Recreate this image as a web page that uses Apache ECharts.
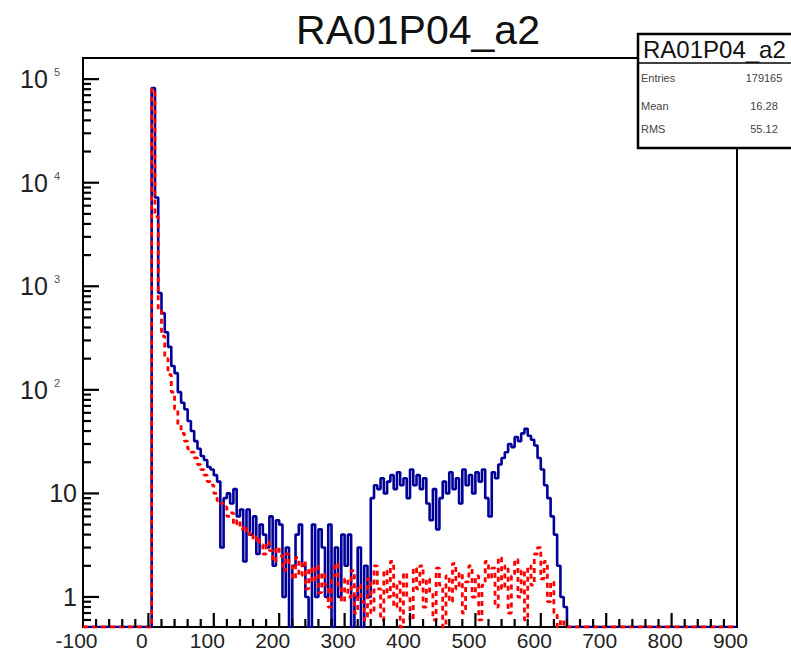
<!DOCTYPE html>
<html><head><meta charset="utf-8">
<script src="https://cdn.jsdelivr.net/npm/echarts@6/dist/echarts.min.js"></script>
<style>html,body{margin:0;padding:0;background:#fff}#c{width:791px;height:657px}</style>
</head><body><div id="c"></div>
<script>
// ---- axis ranges ----
const X_MIN = -100, X_MAX = 900;
const Y_MIN = 0.513, Y_MAX = 160000;
// histogram binning of the arrays below (bins start at 0, width 5)
const BIN_START = 0, BIN_WIDTH = 5;

// ---- series values (one entry per 5-unit bin, 0 .. 650) ----
const blueCounts = [
  0, 82000, 7200, 860, 550, 360, 260, 170, 145, 95,
  75, 65, 50, 40, 32, 27, 23, 21, 18, 17,
  15, 13, 3, 9, 10, 8, 11, 6, 7, 2.2,
  7, 4, 6, 2.6, 5, 4, 3, 6, 2, 5.5,
  5, 1, 3, 0, 2, 4, 5, 2, 1, 0,
  5, 1, 4.5, 3, 1, 5, 0, 3, 1, 4,
  2, 4, 0, 1, 3, 0, 2, 1,
  9, 12, 11, 14, 10, 13, 15, 11, 16, 12,
  14, 9, 17, 12, 15, 11, 14, 8, 5.5, 11,
  4.5, 9, 13, 10, 16, 11, 14, 8, 17, 12,
  15, 10, 16, 13, 17, 9, 6, 16, 14, 19,
  22, 25, 30, 28, 35, 32, 38, 42, 36, 33,
  29, 22, 17, 12, 9, 6, 4, 2, 1, 0.8,
  0, 0
];
const redCounts = [
  0, 80000, 4700, 600, 330, 200, 140, 95, 65, 46,
  38, 32, 27, 25, 22, 19, 17, 15, 13, 12,
  10, 8.5, 8, 7.4, 6, 6.5, 5, 5.5, 4.5, 4.8,
  4, 4.2, 3.5, 3.8, 3.2, 2.6, 3.4, 2.8, 2.2, 3,
  2.5, 1.8, 2.6, 2, 1.5, 2.4, 1.6, 2.2, 1.2, 1.9,
  1.4, 2, 1.1, 1.7, 1.3, 0.8, 1.6, 2.1, 1.2, 0.9,
  1.5, 1, 1.8, 0.7, 1.3, 0.9, 0.6, 1.5,
  0.7, 2, 1.2, 0.6, 1.8, 1, 2.2, 0.8, 1.4, 0,
  1.7, 1, 0.6, 1.9, 1.2, 2, 0.8, 1.5, 1.1, 0.6,
  1.9, 1.3, 0, 1.6, 0.9, 2.1, 1.2, 1.7, 0.7, 1.4,
  2, 1, 1.6, 0.6, 1.3, 2.2, 1.5, 1.9, 0.8, 2.4,
  1.2, 2, 0.7, 1.6, 2.3, 1, 1.8, 0.6, 2, 1.3,
  2.6, 3, 1.5, 2.2, 0.9, 1.4, 0.7, 0, 0.6, 0,
  0, 0
];

// ---- texts ----
const histTitle = 'RA01P04_a2';
const statsLabels = ['Entries', 'Mean', 'RMS'];
const statsValues = ['179165', '16.28', '55.12'];

// ---- build histogram step points (left bin edges, step at end) ----
function histPoints(counts) {
  const pts = [[X_MIN, Y_MIN]];
  counts.forEach((c, i) => pts.push([BIN_START + i * BIN_WIDTH, c > 0 ? c : Y_MIN]));
  pts.push([BIN_START + counts.length * BIN_WIDTH, Y_MIN]);
  pts.push([X_MAX, Y_MIN]);
  return pts;
}
// axis tick positions (ROOT style: inside ticks; log minor ticks at 2..9)
const yMajor = [], yMinor = [];
for (let e = -1; e <= 5; e++) for (let m = 1; m <= 9; m++) {
  const v = m * Math.pow(10, e);
  if (v > Y_MIN && v < Y_MAX) (m === 1 ? yMajor : yMinor).push([X_MIN, v]);
}
// x ticks: placed by their centre height above the frame bottom
const GRID_H = 569;
const decadePx = GRID_H / (Math.log10(Y_MAX) - Math.log10(Y_MIN));
const yAtPx = px => Y_MIN * Math.pow(10, px / decadePx);
const xMajor = [], xMinor = [];
for (let v = X_MIN + 20; v < X_MAX; v += 20) {
  if (v % 100 === 0) xMajor.push([v, yAtPx(7)]);
  else xMinor.push([v, yAtPx(4)]);
}

function tickSeries(data, w, h, ox, oy) {
  return {
    type: 'scatter', data: data, symbol: 'rect', symbolSize: [w, h], symbolOffset: [ox, oy],
    itemStyle: {color: '#000', opacity: 1}, silent: true, clip: false, z: 6, animation: false
  };
}

const FONT = '"Liberation Sans", Arial, sans-serif';
const chart = echarts.init(document.getElementById('c'), null, {renderer: 'svg'});
chart.setOption({
  animation: false,
  backgroundColor: '#fff',
  title: {
    text: histTitle, left: 413, top: 4, textAlign: 'center',
    textStyle: {fontFamily: FONT, fontSize: 41, fontWeight: 'normal', color: '#111'}
  },
  grid: {left: 83, top: 58, right: 54, bottom: 30, show: true, borderColor: '#000', borderWidth: 2},
  xAxis: {
    type: 'value', min: X_MIN, max: X_MAX, interval: 100,
    axisLine: {show: true, onZero: false, lineStyle: {color: '#000', width: 2}},
    axisTick: {show: false},
    minorTick: {show: false},
    splitLine: {show: false},
    axisLabel: {color: '#222', fontFamily: FONT, fontSize: 21, margin: 3, padding: [0, 13, 0, 0]}
  },
  yAxis: {
    type: 'log', logBase: 10, min: Y_MIN, max: Y_MAX,
    axisLine: {show: true, onZero: false, lineStyle: {color: '#000', width: 2}},
    axisTick: {show: false},
    minorTick: {show: false},
    splitLine: {show: false},
    axisLabel: {
      showMinLabel: false, showMaxLabel: false, margin: 6, color: '#222',
      formatter: v => {
        const e = Math.round(Math.log10(v));
        if (e === 0) return '{n|1}';
        if (e === 1) return '{n|10}';
        return '{n|10}{s|' + e + '}{g|}';
      },
      rich: {
        n: {fontFamily: FONT, fontSize: 25, color: '#222'},
        s: {fontFamily: FONT, fontSize: 11, color: '#555', verticalAlign: 'top', padding: [0, 0, 0, 6]},
        g: {width: 17}
      }
    }
  },
  series: [
    {
      type: 'line', step: 'end', data: histPoints(blueCounts), showSymbol: false, symbol: 'none',
      lineStyle: {color: '#000099', width: 2.6}, z: 2
    },
    {
      type: 'line', step: 'end', data: histPoints(redCounts), showSymbol: false, symbol: 'none',
      lineStyle: {color: '#ff0000', width: 2.8, type: [5, 4]}, z: 3
    },
    tickSeries(xMajor, 2.2, 14, 0, 0),
    tickSeries(xMinor, 2.2, 8, 0, 0),
    tickSeries(yMajor, 16, 2.2, 8, 0),
    tickSeries(yMinor, 8, 2.2, 4, 0)
  ],
  graphic: [
    {type: 'rect', z: 100, shape: {x: 638, y: 34, width: 170, height: 114}, style: {fill: '#fff', stroke: '#000', lineWidth: 2.5}},
    {type: 'line', z: 101, shape: {x1: 638, y1: 63, x2: 800, y2: 63}, style: {stroke: '#000', lineWidth: 1.5}},
    {type: 'text', z: 101, x: 643, y: 49, style: {text: histTitle, font: '24px "Liberation Sans", Arial, sans-serif', fill: '#111', align: 'left', verticalAlign: 'middle', textAlign: 'left', textVerticalAlign: 'middle'}},
    ...statsLabels.map((t, i) => ({type: 'text', z: 101, x: 641, y: [78, 106, 129][i], style: {text: t, font: '11px "Liberation Sans", Arial, sans-serif', fill: '#444', align: 'left', verticalAlign: 'middle', textAlign: 'left', textVerticalAlign: 'middle'}})),
    ...statsValues.map((t, i) => ({type: 'text', z: 101, x: 764, y: [78, 106, 129][i], style: {text: t, font: '11px "Liberation Sans", Arial, sans-serif', fill: '#444', align: 'center', verticalAlign: 'middle', textAlign: 'center', textVerticalAlign: 'middle'}}))
  ]
});
</script>
</body></html>
